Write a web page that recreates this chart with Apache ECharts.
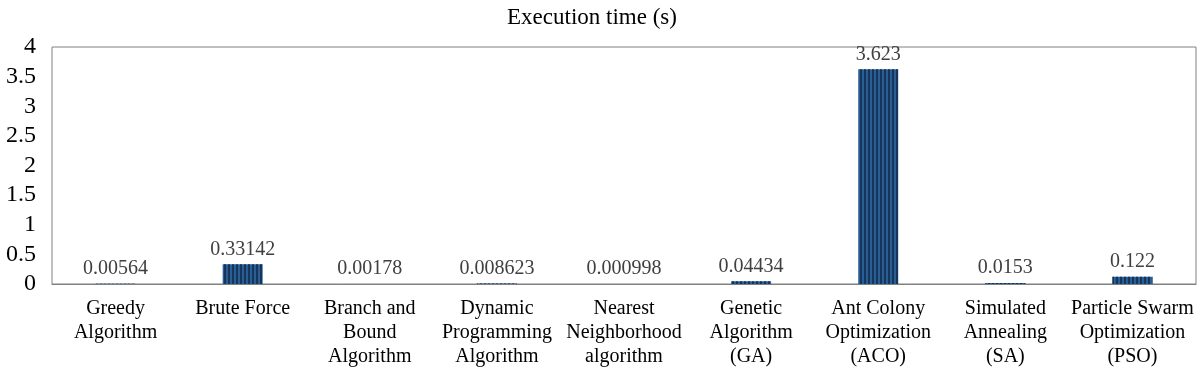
<!DOCTYPE html>
<html>
<head>
<meta charset="utf-8">
<script src="https://cdn.jsdelivr.net/npm/echarts@6/dist/echarts.min.js"></script>
<style>html,body{margin:0;padding:0;background:#fff}#c{width:1200px;height:369px}</style>
</head>
<body>
<div id="c"></div>
<script>
const categories = [
  "Greedy\nAlgorithm",
  "Brute Force",
  "Branch and\nBound\nAlgorithm",
  "Dynamic\nProgramming\nAlgorithm",
  "Nearest\nNeighborhood\nalgorithm",
  "Genetic\nAlgorithm\n(GA)",
  "Ant Colony\nOptimization\n(ACO)",
  "Simulated\nAnnealing\n(SA)",
  "Particle Swarm\nOptimization\n(PSO)"
];
const values = [0.00564, 0.33142, 0.00178, 0.008623, 0.000998, 0.04434, 3.623, 0.0153, 0.122];
const valueLabels = ["0.00564", "0.33142", "0.00178", "0.008623", "0.000998", "0.04434", "3.623", "0.0153", "0.122"];
const yTicks = ["0", "0.5", "1", "1.5", "2", "2.5", "3", "3.5", "4"];

const font = "'Liberation Serif', 'Times New Roman', serif";
const chart = echarts.init(document.getElementById('c'), null, {renderer: 'canvas'});
chart.setOption({
  animation: false,
  backgroundColor: '#fff',
  title: {
    text: 'Execution time (s)',
    left: 587, top: 1, textAlign: 'center',
    textStyle: {fontFamily: font, fontSize: 23, fontWeight: 'normal', color: '#000'}
  },
  grid: {left: 52, right: 4, top: 47, bottom: 85, show: true, borderColor: '#808080', borderWidth: 1},
  xAxis: {
    type: 'category',
    data: categories,
    axisLine: {show: true, lineStyle: {color: '#808080'}},
    axisTick: {show: false},
    axisLabel: {interval: 0, fontFamily: font, fontSize: 20, color: '#000', lineHeight: 24, margin: 13}
  },
  yAxis: {
    type: 'value', min: 0, max: 4, interval: 0.5,
    axisLine: {show: false},
    axisTick: {show: false},
    splitLine: {show: false},
    axisLabel: {fontFamily: font, fontSize: 24, color: '#000', margin: 16,
      formatter: (v) => yTicks[Math.round(v / 0.5)]}
  },
  series: [{
    type: 'bar',
    data: values,
    barWidth: 40,
    itemStyle: {
      color: '#2a5f95',
      decal: {symbol: 'rect', symbolSize: 1, dashArrayX: [2, 2], dashArrayY: [1, 0], color: '#17345a', rotation: 0}
    },
    label: {
      show: true, position: 'top', distance: 5,
      fontFamily: font, fontSize: 20, color: '#404040',
      formatter: (p) => valueLabels[p.dataIndex]
    }
  }]
});
</script>
</body>
</html>
